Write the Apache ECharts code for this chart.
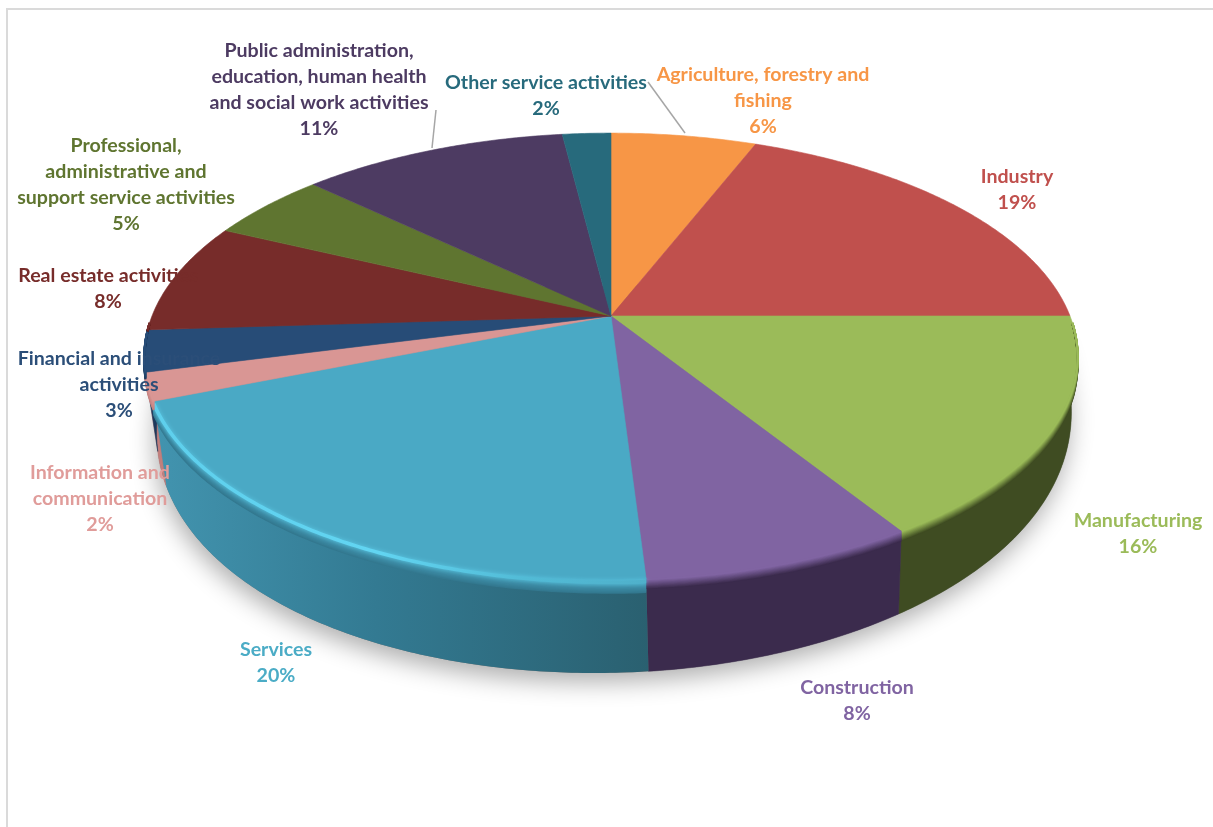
<!DOCTYPE html>
<html>
<head>
<meta charset="utf-8">
<title>Economic activities</title>
<style>
  html, body { margin: 0; padding: 0; background: #fff; }
  #chart { width: 1213px; height: 827px; }
</style>
<script src="https://cdn.jsdelivr.net/npm/echarts@6/dist/echarts.min.js"></script>
</head>
<body>
<div id="chart"></div>
<script>
// Share of each economic activity, clockwise from twelve o'clock.
const categories = [
  'Agriculture, forestry and\nfishing',
  'Industry',
  'Manufacturing',
  'Construction',
  'Services',
  'Information and\ncommunication',
  'Financial and insurance\nactivities',
  'Real estate activities',
  'Professional,\nadministrative and\nsupport service activities',
  'Public administration,\neducation, human health\nand social work activities',
  'Other service activities'
];
const shares = [6, 19, 16, 8, 20, 2, 3, 8, 5, 11, 2];

const faceColors = ['#F79646', '#C0504D', '#9BBB59', '#8064A2', '#4AA9C5', '#D99694',
                    '#274C77', '#772C2A', '#5F7530', '#4D3B62', '#276A7C'];
const wallColors = ['#A8602A', '#6E2A28', '#3F4C22', '#3B2B4D', '#33788F', '#C27F7D',
                    '#1C3A5C', '#5A201E', '#47581F', '#38294A', '#1D5060'];
const labelColors = ['#F79646', '#C0504D', '#9BBB59', '#8064A2', '#4BACC6', '#E09C9A',
                     '#2B4E78', '#772C2A', '#5F7530', '#4D3B62', '#276A7C'];
const labelCentres = [[763, 101], [1017, 190], [1138, 534], [857, 701], [276, 663], [100, 499],
                      [119, 385], [108, 289], [126, 185], [319, 90], [546, 96]];
const leaderLines = [
  [[648, 82], [685, 133]],
  [[436, 110], [432, 148]]
];

// Tilted disc seen in perspective.
const disc = { cx: 611, cy: 316, rx: 459, ry: 216, k: 0.181 };
const total = shares.reduce((a, b) => a + b, 0);
const cumulative = [];
shares.reduce((sum, s, i) => (cumulative[i] = sum, sum + s), 0);

function offset(theta) {
  const u = Math.sin(theta), v = Math.cos(theta), w = 1 + disc.k * v;
  return [disc.rx * u / w, -disc.ry * v / w];
}
function rim(theta, drop) {
  const o = offset(theta);
  return [disc.cx + o[0], disc.cy + o[1] + (drop || 0)];
}
function base(theta) {
  const o = offset(theta), v = Math.cos(theta);
  const h = 45 + (v < 0 ? 48 * Math.sqrt(-v) : 0);
  return [disc.cx + 3 + 0.98 * o[0], disc.cy + o[1] + h - 0.022 * o[0]];
}
function sweep(i) {
  const a = cumulative[i] / total * 2 * Math.PI;
  return [a, a + shares[i] / total * 2 * Math.PI];
}
function sample(a, b, fn, step) {
  const n = Math.max(2, Math.ceil((b - a) / (step || 0.01)));
  const pts = [];
  for (let j = 0; j <= n; j++) pts.push(fn(a + (b - a) * j / n));
  return pts;
}
function mix(c1, c2, t) {
  const p = c => [1, 3, 5].map(i => parseInt(c.substr(i, 2), 16));
  const a = p(c1), b = p(c2);
  return 'rgb(' + a.map((x, i) => Math.round(x + (b[i] - x) * t)).join(',') + ')';
}
// Bevel depth fades out towards the far half of the rim.
function bevelFade(theta) {
  return Math.min(1, Math.max(0, -Math.cos(theta) * 3.2));
}
const SERVICES = 4;
const NEAR_FROM = Math.PI * 0.51;
const NEAR_TO = Math.PI * 1.49;

function renderShadow() {
  const pts = sample(1.2, 5.1, base);
  return {
    type: 'polygon',
    shape: { points: pts },
    style: { fill: '#777', shadowBlur: 24, shadowColor: 'rgba(0,0,0,0.32)', shadowOffsetY: 9, shadowOffsetX: -2 }
  };
}

// Only the near half of the rim has a visible outer wall.
function renderWall(params, api) {
  const i = params.dataIndex;
  const [a0, b0] = sweep(i);
  const a = Math.max(a0, NEAR_FROM), b = Math.min(b0, NEAR_TO);
  if (b <= a) return null;
  const pts = sample(a, b, t => rim(t)).concat(sample(a, b, base).reverse());
  const fill = i === SERVICES
    ? new echarts.graphic.LinearGradient(0, 0, 1, 0, [
        { offset: 0, color: '#4294AF' },
        { offset: 0.45, color: '#337A92' },
        { offset: 1, color: '#2A6070' }
      ])
    : wallColors[i];
  return { type: 'polygon', shape: { points: pts }, style: { fill, stroke: i === SERVICES ? null : wallColors[i], lineWidth: 0.5 } };
}

function renderFace(params, api) {
  const i = params.dataIndex;
  const [a, b] = sweep(i);
  const pts = [[disc.cx, disc.cy]].concat(sample(a, b, t => rim(t)));
  const children = [{
    type: 'polygon',
    shape: { points: pts },
    style: { fill: faceColors[i], stroke: faceColors[i], lineWidth: 0.6 }
  }];
  // Soft bevel along the near rim, from face colour into wall colour.
  const from = Math.max(a, NEAR_FROM), to = Math.min(b, NEAR_TO);
  if (to > from) {
    const depth = i === SERVICES ? 13 : 9;
    const steps = 12;
    for (let s = steps; s >= 0; s--) {
      const t = s / steps;
      children.push({
        type: 'polyline',
        shape: { points: sample(from, to, th => rim(th, t * depth * bevelFade(th))) },
        style: { fill: 'none', stroke: mix(faceColors[i], wallColors[i], t), lineWidth: 2 }
      });
    }
    if (i === SERVICES) {
      children.push({
        type: 'polyline',
        shape: { points: sample(from, to, th => rim(th, 2.5)) },
        style: {
          fill: 'none',
          lineWidth: 3.5,
          shadowBlur: 4,
          shadowColor: 'rgba(100,214,243,0.7)',
          stroke: new echarts.graphic.LinearGradient(0, 0, 1, 0, [
            { offset: 0, color: '#5ECFEC' },
            { offset: 0.45, color: '#62D5F2' },
            { offset: 0.75, color: '#52BBD6' },
            { offset: 1, color: '#4FB0CA' }
          ])
        }
      });
    }
  }
  return { type: 'group', children };
}

function renderLabel(params, api) {
  const i = params.dataIndex;
  const name = categories[i];
  return {
    type: 'text',
    style: {
      text: name + '\n' + api.value(0) + '%',
      x: labelCentres[i][0],
      y: labelCentres[i][1],
      fill: labelColors[i],
      font: '700 19.6px Lato',
      align: 'center',
      verticalAlign: 'middle',
      lineHeight: 26
    }
  };
}

const rows = categories.map((name, i) => ({ name, value: [shares[i]] }));
const custom = (renderItem, data) => ({
  type: 'custom',
  coordinateSystem: 'none',
  silent: true,
  renderItem,
  data: data || rows
});

const chart = echarts.init(document.getElementById('chart'), null, { renderer: 'canvas' });
chart.setOption({
  animation: false,
  backgroundColor: '#fff',
  graphic: [
    { type: 'polyline', silent: true, shape: { points: [[7, 827], [7, 9], [1213, 9]] },
      style: { fill: 'none', stroke: '#DADADA', lineWidth: 2 } }
  ].concat(leaderLines.map(points => ({
    type: 'polyline', silent: true, z: 10, shape: { points },
    style: { fill: 'none', stroke: '#A6A6A6', lineWidth: 1.5 }
  }))),
  series: [
    custom(renderShadow, [{ value: [total] }]),
    custom(renderWall),
    custom(renderFace),
    custom(renderLabel)
  ]
});
</script>
</body>
</html>
